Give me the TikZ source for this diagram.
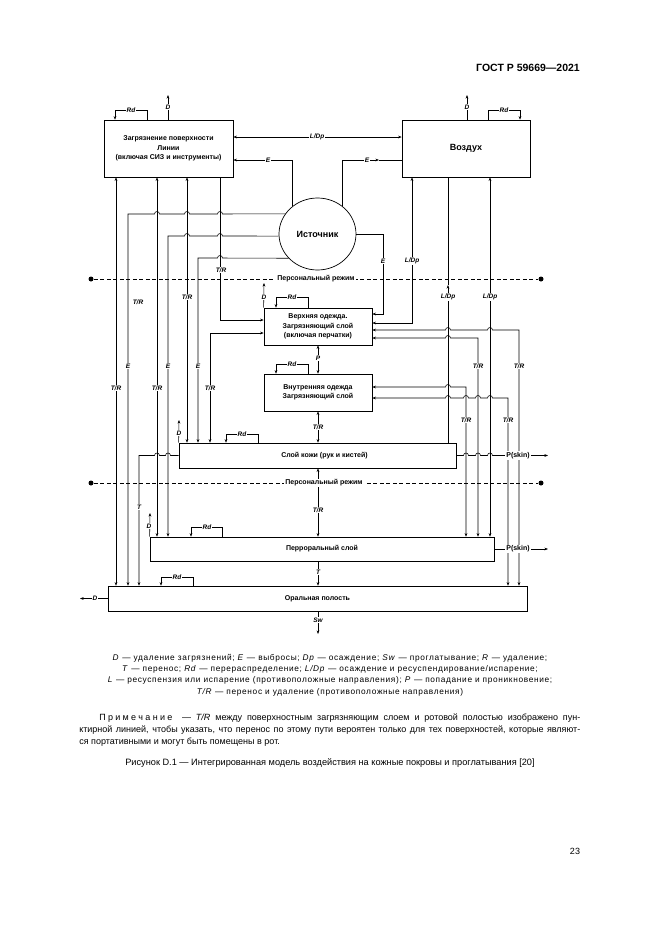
\documentclass[tikz,border=0pt]{standalone}
\usepackage{fontspec}
\setmainfont{Liberation Sans}
\usetikzlibrary{arrows.meta,shapes.geometric}
\newcommand\jl[2]{-- ({#1+2.5},#2) arc[start angle=0,end angle=-180,radius=2.5]}
\newcommand\jr[2]{-- ({#1-2.5},#2) arc[start angle=180,end angle=360,radius=2.5]}
\begin{document}
\begin{tikzpicture}[x=1pt,y=-1pt,line width=0.55pt,
  >={Stealth[length=3.6pt,width=2.8pt]},
  box/.style={draw,line width=0.7pt,inner sep=0pt,align=center,font=\fontsize{7}{9.5}\selectfont\bfseries},
  lbl/.style={fill=white,inner sep=0.8pt,font=\fontsize{6.5}{7}\selectfont\bfseries\itshape},
  plbl/.style={fill=white,inner sep=1pt,font=\fontsize{7}{8}\selectfont\bfseries},
  dot/.style={circle,fill,inner sep=0pt,minimum size=5pt},
  txt/.style={inner sep=0pt}]
\useasboundingbox (0,0) rectangle (661,935);
\fill[white] (0,0) rectangle (661,935);
\node[txt,font=\fontsize{10.5}{12}\selectfont\bfseries] (hdr) at (528,68) {ГОСТ Р 59669—2021};
% boxes
\node[box,minimum width=129pt,minimum height=57pt] (A) at (168.5,148.5) {Загрязнение поверхности\\Линии\\(включая СИЗ и инструменты)};
\node[box,minimum width=128pt,minimum height=57pt,font=\fontsize{9}{11}\selectfont\bfseries] (B) at (466,148.5) {Воздух};
\node[draw,ellipse,minimum width=77pt,minimum height=72pt,inner sep=0pt,line width=0.7pt,font=\fontsize{9}{11}\selectfont\bfseries] (S) at (317.5,234) {Источник};
\node[box,minimum width=108pt,minimum height=37pt] (C) at (318,326.5) {Верхняя одежда.\\Загрязняющий слой\\(включая перчатки)};
\node[box,minimum width=108pt,minimum height=37pt] (D) at (318,392.5) {Внутренняя одежда\\Загрязняющий слой};
\node[box,minimum width=277pt,minimum height=25pt] (E) at (317.5,455.5) {\hspace*{14pt}Слой кожи (рук и кистей)};
\node[box,minimum width=344pt,minimum height=24pt] (F) at (322,549) {Перроральный слой};
\node[box,minimum width=419pt,minimum height=25pt] (G) at (317.5,598.5) {Оральная полость};
% personal zone lines
\node[dot] (dl1) at (91,279) {};
\node[dot] (dr1) at (541,279) {};
\node[dot] (dl2) at (91,483) {};
\node[dot] (dr2) at (541,483) {};
\draw[dash pattern=on 4pt off 2.5pt] (dl1) -- (dr1);
\draw[dash pattern=on 4pt off 2.5pt] (dl2) -- (dr2);
% free ends
\coordinate (Dt1) at (168,95);
\coordinate (Dt2) at (467,95);
\coordinate (DC) at (264,283);
\coordinate (DE) at (179,420);
\coordinate (DF) at (150,513);
\coordinate (DG) at (80,598.5);
\coordinate (Sw) at (318,634);
\coordinate (Ps1) at (548,455.5);
\coordinate (Ps2) at (548,549);
\coordinate (eB) at (379,160);
\coordinate (ldp) at (448,285);
% top
\draw[->] (A.north -| 147,0) -- (147,110) -- (115,110) -- (A.north -| 115,0);
\draw[->] (A.north -| 168,0) -- (Dt1);
\draw[->] (B.north -| 488,0) -- (488,110) -- (520,110) -- (B.north -| 520,0);
\draw[->] (B.north -| 467,0) -- (Dt2);
\draw[<->] (A.east |- 0,137) -- (B.west |- 0,137);
\draw[->] (S.132) |- (A.east |- 0,160);
\draw[->] (S.48) |- (eB);
\draw (eB) -- (B.west |- 0,160);
% left bus
\draw[<->] (A.south -| 116,0) -- (G.north -| 116,0);
\draw[->] (S.148) \jl{220}{214} \jl{187}{214} \jl{157}{214} -- (128,214) -- (G.north -| 128,0);
\draw[<->] (A.south -| 157,0) -- (F.north -| 157,0);
\draw[->] (S.183) \jl{220}{236} \jl{187}{236} -- (168,236) -- (F.north -| 168,0);
\draw[<->] (A.south -| 187,0) -- (E.north -| 187,0);
\draw[->] (S.220) \jl{220}{258} -- (198,258) -- (E.north -| 198,0);
\draw[->] (A.south -| 220,0) |- (C.west |- 0,320);
\draw[<->] (C.west |- 0,333) -| (E.north -| 210,0);
\draw[->] (E.west) \jl{168}{455.5} \jl{157}{455.5} -- (139,455.5) -- (G.north -| 139,0);
% right bus
\draw[<->] (B.south -| 412,0) |- (C.east |- 0,323);
\draw (B.south -| 448,0) -- (ldp);
\draw[->] (E.north -| 448,0) -- (ldp);
\draw[<->] (B.south -| 490,0) -- (F.north -| 490,0);
\draw[->] (S.east) -- (S.east -| 383,0) |- (C.east |- 0,314);
\draw[<->] (C.east |- 0,330) \jr{448}{330} \jr{490}{330} -- (519,330) -- (G.north -| 519,0);
\draw[<->] (C.east |- 0,338) \jr{448}{338} -- (478,338) -- (F.north -| 478,0);
\draw[<->] (D.east |- 0,387) \jr{448}{387} -- (466,387) -- (F.north -| 466,0);
\draw[<->] (D.east |- 0,398) \jr{448}{398} \jr{466}{398} \jr{478}{398} \jr{490}{398} -- (508,398) -- (G.north -| 508,0);
\draw[->] (E.east) \jr{466}{455.5} \jr{478}{455.5} \jr{490}{455.5} -- (Ps1);
\draw[->] (F.east) -- (Ps2);
% centre column
\draw[<->] (C.south) -- (D.north);
\draw[<->] (D.south) -- (E.north -| 318,0);
\draw[<->] (E.south -| 318,0) -- (F.north -| 318,0);
\draw[->] (F.south -| 318,0) -- (G.north -| 318,0);
\draw[->] (G.south -| 318,0) -- (Sw);
\draw[->] (G.west) -- (DG);
% Rd loops and D
\draw[->] (C.north -| 308,0) -- (308,297) -- (276,297) -- (C.north -| 276,0);
\draw[->] (C.north west) -- (DC);
\draw[->] (D.north -| 308,0) -- (308,364) -- (276,364) -- (D.north -| 276,0);
\draw[->] (E.north -| 258,0) -- (258,434) -- (226,434) -- (E.north -| 226,0);
\draw[->] (E.north west) -- (DE);
\draw[->] (F.north -| 222,0) -- (222,527) -- (191,527) -- (F.north -| 191,0);
\draw[->] (F.north west) -- (DF);
\draw[->] (G.north -| 193,0) -- (193,577) -- (161,577) -- (G.north -| 161,0);
% labels
\node[lbl] (l1) at (131,110) {Rd};
\node[lbl] (l2) at (168,107) {D};
\node[lbl] (l3) at (504,110) {Rd};
\node[lbl] (l4) at (467,107) {D};
\node[lbl] (l5) at (317,137) {L/Dp};
\node[lbl] (l6) at (268,160) {E};
\node[lbl] (l7) at (367,160) {E};
\node[lbl] (l8) at (221,270) {T/R};
\node[lbl] (l9) at (138,302) {T/R};
\node[lbl] (l10) at (187,297) {T/R};
\node[lbl] (l11) at (128,366) {E};
\node[lbl] (l12) at (168,366) {E};
\node[lbl] (l13) at (198,366) {E};
\node[lbl] (l14) at (116,388) {T/R};
\node[lbl] (l15) at (157,388) {T/R};
\node[lbl] (l16) at (210,388) {T/R};
\node[lbl] (l17) at (139,507) {T};
\node[lbl] (l18) at (383,261) {E};
\node[lbl] (l19) at (412,261) {L/Dp};
\node[lbl] (l20) at (448,297) {L/Dp};
\node[lbl] (l21) at (490,297) {L/Dp};
\node[lbl] (l22) at (478,366) {T/R};
\node[lbl] (l23) at (519,366) {T/R};
\node[lbl] (l24) at (466,420) {T/R};
\node[lbl] (l25) at (508,420) {T/R};
\node[lbl] (l26) at (318,358) {P};
\node[lbl] (l27) at (318,427) {T/R};
\node[lbl] (l28) at (318,510) {T/R};
\node[lbl] (l29) at (318,572) {T};
\node[lbl] (l30) at (318,620) {Sw};
\node[lbl] (l31) at (95,598.5) {D};
\node[lbl] (l32) at (292,297) {Rd};
\node[lbl] (l33) at (264,297) {D};
\node[lbl] (l34) at (292,364) {Rd};
\node[lbl] (l35) at (242,434) {Rd};
\node[lbl] (l36) at (179,433) {D};
\node[lbl] (l37) at (207,527) {Rd};
\node[lbl] (l38) at (149,526) {D};
\node[lbl] (l39) at (177,577) {Rd};
\node[plbl] (pz1) at (316,279) {Персональный режим};
\node[plbl] (pz2) at (324,483) {Персональный режим};
\node[plbl] (ps1) at (518,455.5) {P(skin)};
\node[plbl] (ps2) at (518,549) {P(skin)};
% legend and text
\node[txt,align=center,font=\fontsize{8.3}{11.3}\selectfont\addfontfeature{LetterSpace=8}] (leg) at (330,675) {\textit{D} — удаление загрязнений; \textit{E} — выбросы; \textit{Dp} — осаждение; \textit{Sw} — проглатывание; \textit{R} — удаление;\\ \textit{T} — перенос; \textit{Rd} — перераспределение; \textit{L/Dp} — осаждение и ресуспендирование/испарение;\\ \textit{L} — ресуспензия или испарение (противоположные направления); \textit{P} — попадание и проникновение;\\ \textit{T/R} — перенос и удаление (противоположные направления)};
\node[txt,anchor=west,font=\fontsize{9}{11}\selectfont] (n1) at (99,718) {\makebox[481pt][s]{П\kern2.3pt р\kern2.3pt и\kern2.3pt м\kern2.3pt е\kern2.3pt ч\kern2.3pt а\kern2.3pt н\kern2.3pt и\kern2.3pt е \ — \textit{T/R} между поверхностным загрязняющим слоем и ротовой полостью изображено пун-}};
\node[txt,anchor=west,font=\fontsize{9}{11}\selectfont] (n2) at (79,730) {\makebox[501pt][s]{ктирной линией, чтобы указать, что перенос по этому пути вероятен только для тех поверхностей, которые являют-}};
\node[txt,anchor=west,font=\fontsize{9}{11}\selectfont] (n3) at (79,742) {ся портативными и могут быть помещены в рот.};
\node[txt,font=\fontsize{9.2}{11}\selectfont] (cap) at (330,763) {Рисунок D.1 — Интегрированная модель воздействия на кожные покровы и проглатывания [20]};
\node[txt,font=\fontsize{9}{11}\selectfont] (pg) at (575,851) {23};
\end{tikzpicture}
\end{document}
